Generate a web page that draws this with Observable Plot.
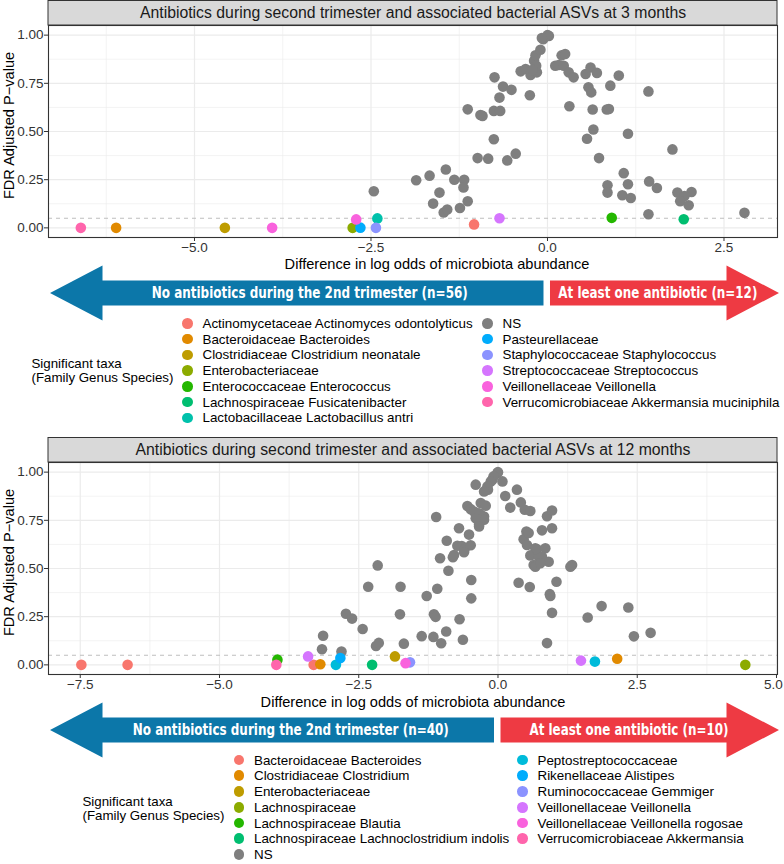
<!DOCTYPE html>
<html><head><meta charset="utf-8">
<script src="https://cdn.jsdelivr.net/npm/d3@7"></script>
<script src="https://cdn.jsdelivr.net/npm/@observablehq/plot@0.6"></script>
<style>
body{margin:0;background:#fff;font-family:'Liberation Sans',Arial,Helvetica,sans-serif;}
#fig{position:relative;width:784px;height:864px;overflow:hidden;}
.panel{position:absolute;left:0;}
.item{position:absolute;display:flex;align-items:center;height:16px;white-space:nowrap;font-size:13.4px;color:#000;}
.sw{display:inline-block;width:10.6px;height:10.6px;border-radius:50%;margin-right:9.7px;flex:none;}
.ltitle{position:absolute;font-size:13.3px;line-height:14.3px;white-space:nowrap;color:#000;}
</style></head><body><div id="fig"></div>
<script>
const FONT = "'Liberation Sans', Arial, Helvetica, sans-serif";
const palette = ["#F8766D","#E18A00","#BE9C00","#8CAB00","#24B700","#00BE70","#00C1AB","#00BBDA","#00ACFC","#8B93FF","#D575FE","#F962DD","#FF65AC"];
const nsColor = "#7F7F7F";
const yTitle = "FDR Adjusted P\u2212value";
const xTitle = "Difference in log odds of microbiota abundance";
const legendTitle = ["Significant taxa", "(Family Genus Species)"];
const ticksY = [0, 0.25, 0.5, 0.75, 1];
const minorY = [0.125, 0.375, 0.625, 0.875];

// ---------- Panel 1: 3 months ----------
const title3 = "Antibiotics during second trimester and associated bacterial ASVs at 3 months";
const taxa3 = ["Actinomycetaceae Actinomyces odontolyticus","Bacteroidaceae Bacteroides","Clostridiaceae Clostridium neonatale","Enterobacteriaceae","Enterococcaceae Enterococcus","Lachnospiraceae Fusicatenibacter","Lactobacillaceae Lactobacillus antri","NS","Pasteurellaceae","Staphylococcaceae Staphylococcus","Streptococcaceae Streptococcus","Veillonellaceae Veillonella","Verrucomicrobiaceae Akkermansia muciniphila"];
const groups3 = ["No antibiotics during the 2nd trimester (n=56)", "At least one antibiotic (n=12)"];
const groupLabelX3 = [-3.36, 1.57];
const ticksX3 = [-5, -2.5, 0, 2.5];
const minorX3 = [-6.25, -3.75, -1.25, 1.25];
const ns3X = [-2.46,-1.86,-1.67,-1.44,-1.32,-1.18,-1.19,-1.53,-1.62,-1.47,-1.42,-1.24,-1.13,-0.99,-0.84,-0.76,-0.57,-0.45,-1.13,-0.92,-0.95,-0.76,-0.67,-0.75,-0.63,-0.68,-0.51,-0.25,-0.38,-0.31,-0.24,-0.15,-0.19,-0.17,-0.10,-0.06,0.02,0.00,-0.08,-0.16,-0.21,0.11,0.16,0.20,0.25,0.23,0.30,0.37,0.54,0.61,0.70,1.01,0.89,0.58,0.62,1.43,0.31,0.64,0.84,0.87,0.65,0.56,1.14,0.73,1.77,1.08,1.14,0.85,0.85,1.06,1.18,1.44,1.55,1.84,2.04,1.94,1.88,2.00,1.43,2.79];
const ns3P = [0.190,0.247,0.271,0.303,0.250,0.250,0.210,0.183,0.126,0.080,0.095,0.103,0.138,0.362,0.359,0.460,0.350,0.385,0.615,0.581,0.586,0.607,0.607,0.781,0.733,0.676,0.716,0.688,0.812,0.824,0.793,0.807,0.867,0.896,0.924,0.979,0.996,1.000,0.985,0.841,0.820,0.841,0.845,0.895,0.902,0.841,0.807,0.781,0.798,0.832,0.804,0.790,0.738,0.729,0.703,0.708,0.631,0.614,0.614,0.617,0.510,0.462,0.488,0.362,0.407,0.284,0.226,0.221,0.183,0.169,0.155,0.241,0.207,0.183,0.186,0.165,0.138,0.117,0.071,0.078];
const sig3Taxon = ["Actinomycetaceae Actinomyces odontolyticus","Bacteroidaceae Bacteroides","Clostridiaceae Clostridium neonatale","Enterobacteriaceae","Enterococcaceae Enterococcus","Lachnospiraceae Fusicatenibacter","Lactobacillaceae Lactobacillus antri","Pasteurellaceae","Staphylococcaceae Staphylococcus","Streptococcaceae Streptococcus","Veillonellaceae Veillonella","Veillonellaceae Veillonella","Verrucomicrobiaceae Akkermansia muciniphila"];
const sig3X = [-1.04,-6.11,-4.57,-2.76,0.91,1.93,-2.41,-2.65,-2.43,-0.68,-3.90,-2.71,-6.61];
const sig3P = [0.018,0.000,0.000,0.000,0.052,0.045,0.049,0.001,0.000,0.050,0.000,0.044,0.000];

// ---------- Panel 2: 12 months ----------
const title12 = "Antibiotics during second trimester and associated bacterial ASVs at 12 months";
const taxa12 = ["Bacteroidaceae Bacteroides","Clostridiaceae Clostridium","Enterobacteriaceae","Lachnospiraceae","Lachnospiraceae Blautia","Lachnospiraceae Lachnoclostridium indolis","NS","Peptostreptococcaceae","Rikenellaceae Alistipes","Ruminococcaceae Gemmiger","Veillonellaceae Veillonella","Veillonellaceae Veillonella rogosae","Verrucomicrobiaceae Akkermansia"];
const groups12 = ["No antibiotics during the 2nd trimester (n=40)", "At least one antibiotic (n=10)"];
const groupLabelX12 = [-3.71, 2.36];
const ticksX12 = [-7.5, -5, -2.5, 0, 2.5, 5];
const minorX12 = [-6.25, -3.75, -1.25, 1.25, 3.75];
const ns12X = [-3.14,-3.16,-2.81,-2.73,-2.62,-2.43,-2.33,-2.16,-2.19,-2.14,-1.75,-1.76,-1.69,-1.37,-1.28,-1.11,-1.15,-1.12,-1.09,-1.16,-1.02,-0.93,-0.89,-1.04,-0.92,-0.81,-0.70,-0.73,-0.65,-0.60,-0.49,-0.52,-0.69,-0.63,-0.48,-0.48,-0.55,-0.40,-0.49,-0.34,-0.31,-0.22,-0.34,-0.25,-0.18,-0.10,-0.01,0.00,-0.08,-0.13,-0.19,-0.25,-0.43,-0.31,-0.25,-0.40,-0.79,-0.61,-0.34,0.08,0.13,0.34,0.22,0.41,0.48,0.58,0.88,0.97,0.79,0.97,0.51,0.46,0.52,0.67,0.58,0.73,0.64,0.70,0.85,0.79,0.91,0.67,0.76,0.55,1.33,1.30,0.37,0.57,1.05,0.93,0.94,0.97,0.88,1.61,1.86,2.34,2.44,2.74];
const ns12P = [0.151,0.081,0.069,0.265,0.240,0.186,0.405,0.516,0.098,0.114,0.405,0.262,0.110,0.149,0.357,0.767,0.263,0.249,0.395,0.145,0.112,0.173,0.488,0.553,0.644,0.558,0.709,0.618,0.617,0.600,0.621,0.676,0.237,0.130,0.440,0.345,0.824,0.935,0.808,0.787,0.840,0.826,0.727,0.770,0.909,0.961,0.996,1.000,0.978,0.952,0.926,0.900,0.796,0.779,0.753,0.761,0.570,0.584,0.718,0.952,0.876,0.909,0.816,0.843,0.805,0.798,0.771,0.801,0.698,0.709,0.692,0.652,0.622,0.605,0.568,0.561,0.518,0.600,0.605,0.561,0.535,0.509,0.527,0.684,0.518,0.509,0.426,0.404,0.431,0.367,0.357,0.270,0.113,0.246,0.305,0.298,0.148,0.166];
const sig12Taxon = ["Bacteroidaceae Bacteroides","Bacteroidaceae Bacteroides","Bacteroidaceae Bacteroides","Clostridiaceae Clostridium","Clostridiaceae Clostridium","Enterobacteriaceae","Lachnospiraceae","Lachnospiraceae Blautia","Lachnospiraceae Lachnoclostridium indolis","Peptostreptococcaceae","Peptostreptococcaceae","Rikenellaceae Alistipes","Ruminococcaceae Gemmiger","Veillonellaceae Veillonella","Veillonellaceae Veillonella","Veillonellaceae Veillonella rogosae","Verrucomicrobiaceae Akkermansia"];
const sig12X = [-7.48,-6.65,-3.31,-3.19,2.14,-1.85,4.44,-3.96,-2.26,-2.91,1.74,-2.83,-1.58,-3.41,1.49,-1.66,-3.98];
const sig12P = [0.000,0.000,0.000,0.003,0.032,0.044,0.000,0.027,0.000,0.000,0.017,0.035,0.013,0.044,0.022,0.009,0.000];

const fig = document.getElementById("fig");
const fmt1 = d3.format(".1f");

function makePanel(cfg) {
  const colorOf = new Map(cfg.taxa.map((t, i) => [t, t === "NS" ? nsColor : palette[i]]));
  const ns = cfg.nsX.map((x, i) => ({x, p: cfg.nsP[i], taxon: "NS"}));
  const sig = cfg.sigX.map((x, i) => ({x, p: cfg.sigP[i], taxon: cfg.sigTaxon[i]}));
  const xmax = cfg.xDomain[1];
  const edgeTicks = cfg.ticksX.filter(t => xmax - t < 0.05);

  const strip = (index, scales, values, dims) => {
    const g = d3.create("svg:g");
    g.append("rect")
      .attr("x", dims.marginLeft).attr("y", 0.5)
      .attr("width", dims.width - dims.marginLeft - dims.marginRight)
      .attr("height", dims.marginTop - 0.5)
      .attr("fill", "#D9D9D9").attr("stroke", "#333").attr("stroke-width", 1);
    return g.node();
  };

  const arrows = (index, scales, values, dims) => {
    const g = d3.create("svg:g");
    const x0 = scales.x(0);
    const cy = dims.height - dims.marginBottom + 56;
    const hh = 27.5, bh = 12.5, head = 52.5;
    const left = dims.marginLeft + 2, right = dims.width - dims.marginRight + 2;
    const blue = [[left, cy], [left + head, cy - hh], [left + head, cy - bh], [x0 - 3.5, cy - bh], [x0 - 3.5, cy + bh], [left + head, cy + bh], [left + head, cy + hh]];
    const red = [[right, cy], [right - head, cy - hh], [right - head, cy - bh], [x0 + 3, cy - bh], [x0 + 3, cy + bh], [right - head, cy + bh], [right - head, cy + hh]];
    g.append("polygon").attr("points", blue.map(p => p.join(",")).join(" ")).attr("fill", "#0C77A9");
    g.append("polygon").attr("points", red.map(p => p.join(",")).join(" ")).attr("fill", "#EE3A43");
    const widths = [316, 199];
    cfg.groups.forEach((label, i) => {
      g.append("text")
        .attr("x", scales.x(cfg.groupLabelX[i])).attr("y", cy)
        .attr("dy", "0.36em")
        .attr("text-anchor", "middle")
        .attr("fill", "#fff")
        .attr("font-family", "'Liberation Sans Narrow', 'DejaVu Sans Condensed', 'Liberation Sans', Arial, sans-serif")
        .attr("font-weight", "bold")
        .attr("font-size", 15)
        .attr("textLength", widths[i])
        .attr("lengthAdjust", "spacingAndGlyphs")
        .text(label);
    });
    return g.node();
  };

  const plot = Plot.plot({
    width: 784, height: 322,
    marginLeft: 48, marginRight: 7, marginTop: 25, marginBottom: 85,
    style: {fontFamily: FONT, fontSize: "13.5px", color: "#000", background: "transparent"},
    x: {domain: cfg.xDomain},
    y: {domain: [-0.05, 1.05]},
    color: {domain: cfg.taxa, range: cfg.taxa.map(t => colorOf.get(t))},
    marks: [
      Plot.ruleX(cfg.minorX, {stroke: "#EBEBEB", strokeWidth: 0.6}),
      Plot.ruleY(minorY, {stroke: "#EBEBEB", strokeWidth: 0.6}),
      Plot.ruleX(cfg.ticksX, {stroke: "#EBEBEB", strokeWidth: 1.2}),
      Plot.ruleY(ticksY, {stroke: "#EBEBEB", strokeWidth: 1.2}),
      Plot.ruleY([0.05], {stroke: "#BEBEBE", strokeDasharray: "4,4", strokeWidth: 1.1}),
      Plot.dot(ns, {x: "x", y: "p", fill: "taxon", r: 5.3}),
      Plot.dot(sig, {x: "x", y: "p", fill: "taxon", r: 5.3}),
      Plot.frame({stroke: "#333", strokeWidth: 1.1}),
      Plot.axisX({ticks: cfg.ticksX, tickFormat: d => edgeTicks.includes(d) ? "" : fmt1(d), tickSize: 4, tickPadding: 1, label: null, color: "#333"}),
      Plot.axisX({ticks: edgeTicks, tickFormat: fmt1, tickSize: 0, tickPadding: 5, dx: -3, label: null, color: "#333"}),
      Plot.axisY({ticks: ticksY, tickFormat: d3.format(".2f"), tickSize: 4, tickPadding: 1, label: null, color: "#333"}),
      Plot.text([yTitle], {frameAnchor: "left", rotate: -90, textAnchor: "middle", lineAnchor: "middle", dx: -39, dy: -6, fontSize: 14.6, fill: "#000"}),
      Plot.text([xTitle], {frameAnchor: "bottom", lineAnchor: "middle", textAnchor: "middle", dy: cfg.xTitleDy, dx: cfg.xTitleDx, fontSize: 14.6, fill: "#000"}),
      strip,
      Plot.text([cfg.title], {frameAnchor: "top", lineAnchor: "middle", textAnchor: "middle", dy: -12.5, fontSize: 15.8, fill: "#1A1A1A"}),
      arrows
    ]
  });
  plot.classList.add("panel");
  plot.style.top = cfg.top + "px";
  fig.appendChild(plot);

  // legend (below the SVG)
  const nCol1 = Math.ceil(cfg.taxa.length / 2);
  cfg.taxa.forEach((t, i) => {
    const col = i < nCol1 ? 0 : 1;
    const row = col === 0 ? i : i - nCol1;
    const cy = cfg.legY0 + row * 15.75;
    const cx = cfg.legCols[col];
    const div = document.createElement("div");
    div.className = "item";
    div.style.left = (cx - 5.3) + "px";
    div.style.top = (cy - 8) + "px";
    const sw = document.createElement("span");
    sw.className = "sw";
    sw.style.background = colorOf.get(t);
    const tx = document.createElement("span");
    tx.textContent = t;
    div.appendChild(sw); div.appendChild(tx);
    fig.appendChild(div);
  });
  const lt = document.createElement("div");
  lt.className = "ltitle";
  lt.style.left = cfg.legTitleX + "px";
  lt.style.top = (cfg.legTitleY - 7.2) + "px";
  lt.innerHTML = legendTitle.join("<br>");
  fig.appendChild(lt);
}

makePanel({
  title: title3, taxa: taxa3, nsX: ns3X, nsP: ns3P, sigTaxon: sig3Taxon, sigX: sig3X, sigP: sig3P,
  xDomain: [-7.068, 3.258], ticksX: ticksX3, minorX: minorX3,
  groups: groups3, groupLabelX: groupLabelX3, xTitleDx: 24, xTitleDy: 26.5,
  top: 0, legY0: 323.3, legCols: [187.5, 487.5], legTitleX: 31.5, legTitleY: 364
});
makePanel({
  title: title12, taxa: taxa12, nsX: ns12X, nsP: ns12P, sigTaxon: sig12Taxon, sigX: sig12X, sigP: sig12P,
  xDomain: [-8.07, 5.018], ticksX: ticksX12, minorX: minorX12,
  groups: groups12, groupLabelX: groupLabelX12, xTitleDx: 0, xTitleDy: 28,
  top: 437, legY0: 760, legCols: [239, 522.5], legTitleX: 82.5, legTitleY: 801.7
});
</script></body></html>
